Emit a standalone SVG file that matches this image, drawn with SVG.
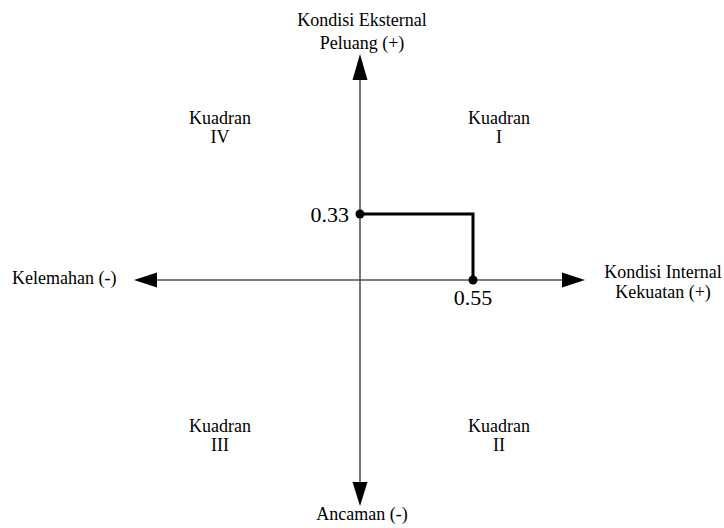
<svg xmlns="http://www.w3.org/2000/svg" width="724" height="528" viewBox="0 0 724 528">
<style>
text{font-family:"Liberation Serif","Times New Roman",serif;fill:#000;font-size:18px}
.c{text-anchor:middle}
.v{font-size:22px}
.axis{stroke:#555;stroke-width:1.6;fill:none}
.path{stroke:#000;stroke-width:3;fill:none}
</style>
<rect width="724" height="528" fill="#fff"/>
<g id="connectors">
<line class="axis" x1="360" y1="76" x2="360" y2="486"/>
<line class="axis" x1="154" y1="280" x2="566" y2="280"/>
<polygon points="360,54 352.5,80 367.5,80" fill="#000"/>
<polygon points="360,506 352.5,482 367.5,482" fill="#000"/>
<polygon points="134,280 157,272.5 157,287.5" fill="#000"/>
<polygon points="585,280 562,272.5 562,287.5" fill="#000"/>
<polyline class="path" points="360,214 473,214 473,280"/>
</g>
<g id="p033"><circle cx="360" cy="214" r="4.5" fill="#000"/><text class="v" x="349" y="222" text-anchor="end">0.33</text></g>
<g id="p055"><circle cx="473" cy="280" r="4.5" fill="#000"/><text class="v c" x="473" y="305">0.55</text></g>
<g id="top"><text class="c" x="362" y="26">Kondisi Eksternal</text><text class="c" x="362" y="49">Peluang (+)</text></g>
<g id="bottom"><text class="c" x="362" y="520">Ancaman (-)</text></g>
<g id="left"><text x="12" y="284">Kelemahan (-)</text></g>
<g id="right"><text class="c" x="663" y="278">Kondisi Internal</text><text class="c" x="663" y="298">Kekuatan (+)</text></g>
<g id="q4"><text class="c" x="220" y="124">Kuadran</text><text class="c" x="220" y="143">IV</text></g>
<g id="q1"><text class="c" x="499" y="124">Kuadran</text><text class="c" x="499" y="143">I</text></g>
<g id="q3"><text class="c" x="220" y="432">Kuadran</text><text class="c" x="220" y="451">III</text></g>
<g id="q2"><text class="c" x="499" y="432">Kuadran</text><text class="c" x="499" y="451">II</text></g>
</svg>
